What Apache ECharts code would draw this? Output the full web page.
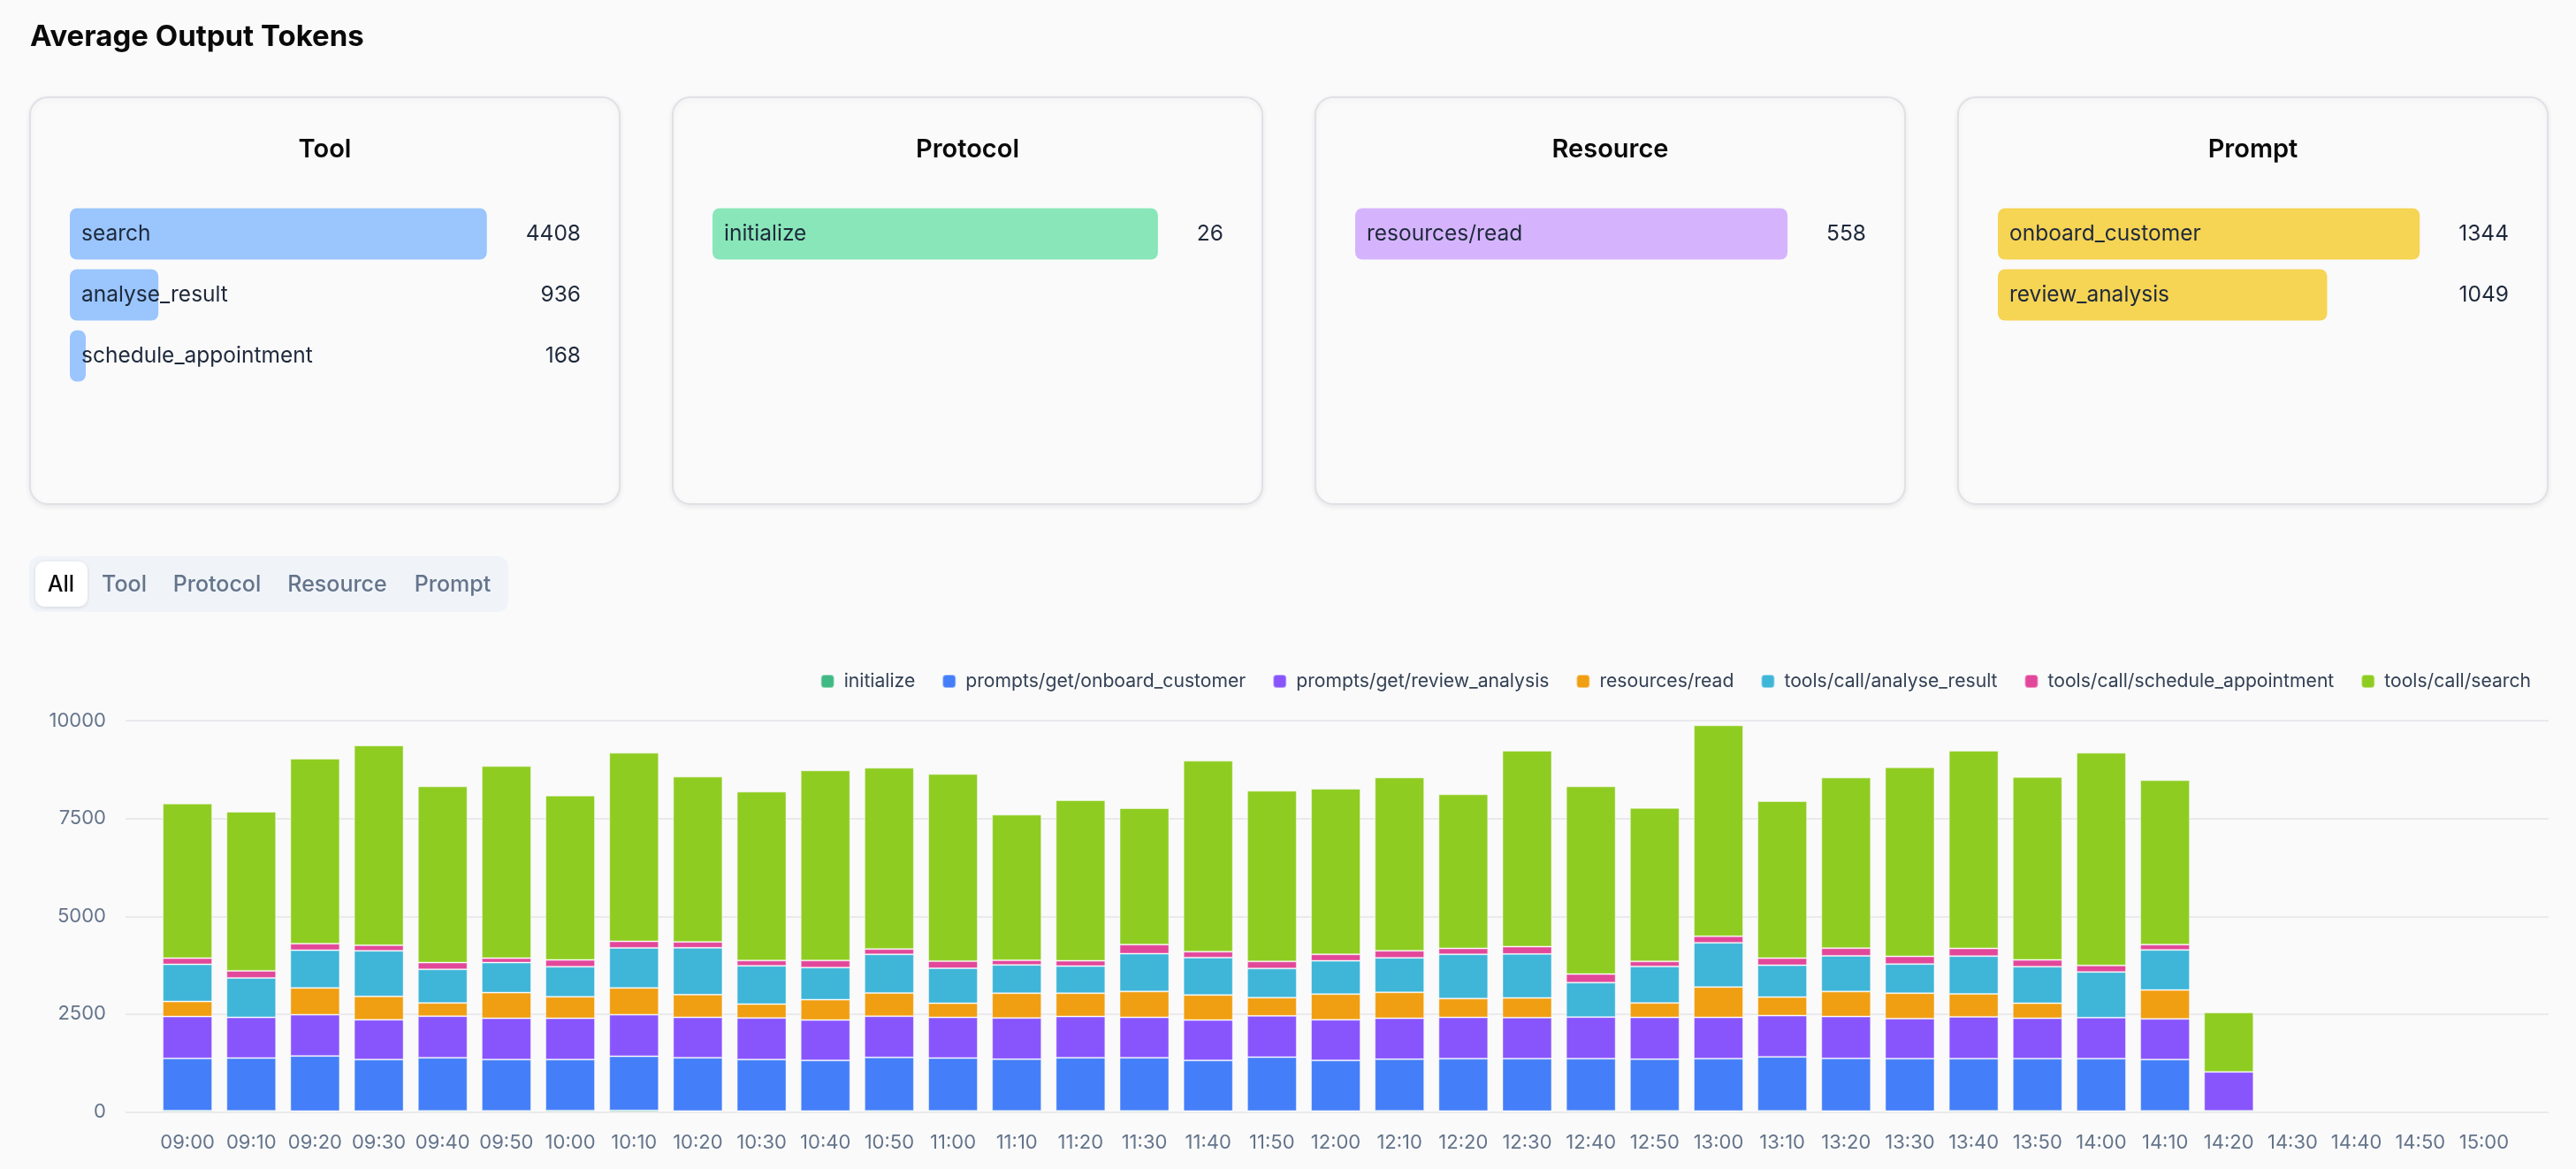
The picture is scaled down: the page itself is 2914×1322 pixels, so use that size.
<!DOCTYPE html>
<html><head><meta charset="utf-8">
<script src="https://cdn.jsdelivr.net/npm/echarts@6/dist/echarts.min.js"></script>
<style>html,body{margin:0;padding:0;background:#fafafa;}#c{width:2914px;height:1322px;}</style>
</head><body><div id="c"></div>
<script>
// ---------- data ----------
const times = ['09:00','09:10','09:20','09:30','09:40','09:50','10:00','10:10','10:20','10:30','10:40','10:50','11:00','11:10','11:20','11:30','11:40','11:50','12:00','12:10','12:20','12:30','12:40','12:50','13:00','13:10','13:20','13:30','13:40','13:50','14:00','14:10','14:20','14:30','14:40','14:50','15:00'];
const seriesNames = ['initialize','prompts/get/onboard_customer','prompts/get/review_analysis','resources/read','tools/call/analyse_result','tools/call/schedule_appointment','tools/call/search'];
const initialize = [32,30,22,24,26,28,36,38,24,22,25,26,30,27,28,26,24,25,24,30,25,22,27,26,25,28,24,22,28,26,24,27,30,null,null,null,null];
const onboardCustomer = [1338,1348,1409,1316,1360,1312,1304,1385,1362,1318,1293,1367,1348,1321,1358,1360,1294,1376,1294,1318,1338,1341,1336,1322,1338,1380,1346,1341,1335,1337,1339,1313,null,null,null,null,null];
const reviewAnalysis = [1069,1039,1054,1017,1062,1054,1054,1062,1032,1062,1032,1054,1039,1054,1054,1032,1032,1054,1039,1047,1054,1047,1062,1069,1054,1054,1069,1024,1069,1032,1047,1039,994,null,null,null,null];
const resourcesRead = [384,null,685,595,339,655,550,685,580,354,520,595,361,633,595,663,640,467,655,663,482,505,null,369,776,474,640,648,587,384,null,738,null,null,null,null,null];
const analyseResult = [949,1009,964,1167,858,768,768,1024,1197,979,821,986,896,723,693,964,956,745,851,881,1130,1122,881,934,1130,813,911,745,964,934,1167,1024,null,null,null,null,null];
const scheduleAppointment = [158,181,166,143,173,113,173,166,151,136,181,136,181,120,136,233,151,181,166,181,151,188,218,128,166,181,196,196,196,173,166,136,null,null,null,null,null];
const search = [3953,4066,4729,5105,4503,4910,4202,4819,4224,4315,4857,4631,4782,3720,4104,3486,4879,4360,4232,4428,3938,5007,4797,3923,5391,4013,4360,4834,5053,4676,5437,4202,1521,null,null,null,null];
const yTicks = [0, 2500, 5000, 7500, 10000];

const cardTitles = ['Tool','Protocol','Resource','Prompt'];
const toolNames = ['search','analyse_result','schedule_appointment'];
const toolValues = [4408, 936, 168];
const protocolNames = ['initialize'];
const protocolValues = [26];
const resourceNames = ['resources/read'];
const resourceValues = [558];
const promptNames = ['onboard_customer','review_analysis'];
const promptValues = [1344, 1049];
const tabLabels = ['All','Tool','Protocol','Resource','Prompt'];

// ---------- styles / layout ----------
const FONT = 'Inter';
const seriesColors = ['#41b984','#447ef9','#8855fd','#f09e12','#3fb5d8','#e2489a','#8fcc22'];
const cardColors = ['#9ac5fd','#88e6b8','#d5b4fd','#f6d454'];
const cardX = [34, 761, 1488, 2215];
const cardW = 667, cardTop = 110, cardH = 460;
const CARD_FS = 24.5;

const chart = echarts.init(document.getElementById('c'), null, {renderer: 'canvas'});
const mctx = document.createElement('canvas').getContext('2d');
mctx.font = CARD_FS + 'px ' + FONT;

const grids = [], xAxes = [], yAxes = [], series = [], graphics = [];

// main chart: axis grid (wide) + bar grid (category band)
grids.push({left: 142, right: 31, top: 815, bottom: 64.5});
xAxes.push({gridIndex: 0, type: 'value', show: false, min: 0, max: 1});
yAxes.push({gridIndex: 0, type: 'value', min: yTicks[0], max: yTicks[yTicks.length - 1], interval: yTicks[1] - yTicks[0],
  axisLine: {show: false}, axisTick: {show: false},
  axisLabel: {color: '#64748b', fontSize: 22, fontFamily: FONT, margin: 22, formatter: v => String(v)},
  splitLine: {lineStyle: {color: '#e4e4e9', width: 1.5}}});
grids.push({left: 176, right: 68, top: 815, bottom: 64.5});
xAxes.push({gridIndex: 1, type: 'category', data: times,
  axisLine: {show: false}, axisTick: {show: false},
  axisLabel: {color: '#64748b', fontSize: 22, fontFamily: FONT, margin: 24, interval: 0}});
yAxes.push({gridIndex: 1, type: 'value', min: yTicks[0], max: yTicks[yTicks.length - 1], interval: yTicks[1] - yTicks[0], show: false});

const mainData = [initialize, onboardCustomer, reviewAnalysis, resourcesRead, analyseResult, scheduleAppointment, search];
seriesNames.forEach((n, i) => {
  series.push({name: n, type: 'bar', stack: 'total', xAxisIndex: 1, yAxisIndex: 1,
    barWidth: 56, data: mainData[i],
    itemStyle: {color: seriesColors[i], borderColor: 'rgba(255,255,255,0.45)', borderWidth: 1},
    emphasis: {disabled: true}});
});

// cards
const cardNames = [toolNames, protocolNames, resourceNames, promptNames];
const cardVals = [toolValues, protocolValues, resourceValues, promptValues];
cardTitles.forEach((t, k) => {
  const x0 = cardX[k];
  graphics.push({type: 'rect', z: -10, shape: {x: x0, y: cardTop, width: cardW, height: cardH, r: 20},
    style: {fill: '#fafafa', stroke: '#dfe1e6', lineWidth: 2, shadowBlur: 6, shadowOffsetY: 2, shadowColor: 'rgba(0,0,0,0.07)'}});
  graphics.push({type: 'text', z: 5, style: {text: t, x: x0 + cardW / 2, y: 169, align: 'center', verticalAlign: 'middle',
    font: '600 29px ' + FONT, fill: '#0a0a0a'}});
  const vals = cardVals[k];
  const tw = Math.max(...vals.map(v => mctx.measureText(String(v)).width));
  const left = x0 + 45;
  const right = x0 + cardW - 44 - tw - 44;
  const gi = grids.length;
  grids.push({left: left, top: 230, width: right - left, height: vals.length * 69});
  xAxes.push({gridIndex: gi, type: 'value', min: 0, max: 'dataMax', show: false});
  const yi = yAxes.length;
  yAxes.push({gridIndex: gi, type: 'category', inverse: true, data: cardNames[k], show: false});
  yAxes.push({gridIndex: gi, type: 'category', inverse: true, position: 'right', data: vals.map(String),
    axisLine: {show: false}, axisTick: {show: false},
    axisLabel: {align: 'right', margin: 44 + tw, color: '#1e293b', fontSize: CARD_FS, fontFamily: FONT}});
  series.push({type: 'bar', xAxisIndex: gi, yAxisIndex: yi, barWidth: 58, data: vals,
    itemStyle: {color: cardColors[k], borderRadius: 8}, emphasis: {disabled: true},
    label: {show: true, position: 'insideLeft', distance: 13, formatter: '{b}', color: '#1e293b', fontSize: CARD_FS, fontFamily: FONT}});
});

// title
graphics.push({type: 'text', style: {text: 'Average Output Tokens', x: 34, y: 42, verticalAlign: 'middle',
  font: '700 33px ' + FONT, fill: '#0a0a0a'}});
// tabs
graphics.push({type: 'rect', z: -10, shape: {x: 33, y: 629, width: 542, height: 63, r: 12}, style: {fill: '#f0f4f8'}});
graphics.push({type: 'rect', z: -5, shape: {x: 40, y: 635, width: 59, height: 51, r: 10},
  style: {fill: '#ffffff', shadowBlur: 4, shadowOffsetY: 1, shadowColor: 'rgba(0,0,0,0.12)'}});
const tabCenters = [69, 140.5, 245.5, 381.5, 512];
tabLabels.forEach((t, i) => {
  graphics.push({type: 'text', style: {text: t, x: tabCenters[i], y: 661, align: 'center', verticalAlign: 'middle',
    font: '500 25px ' + FONT, fill: i === 0 ? '#0a0a0a' : '#64748b'}});
});

chart.setOption({
  backgroundColor: '#fafafa',
  animation: false,
  textStyle: {fontFamily: FONT},
  legend: {data: seriesNames, right: 46, top: 755, itemGap: 30, itemWidth: 15, itemHeight: 15,
    icon: 'path://M4,0 H11 Q15,0 15,4 V11 Q15,15 11,15 H4 Q0,15 0,11 V4 Q0,0 4,0 Z',
    textStyle: {color: '#334155', fontSize: 21.15, fontFamily: FONT, padding: [0, 0, 0, 6]}},
  grid: grids, xAxis: xAxes, yAxis: yAxes, series: series, graphic: graphics
});
</script></body></html>
